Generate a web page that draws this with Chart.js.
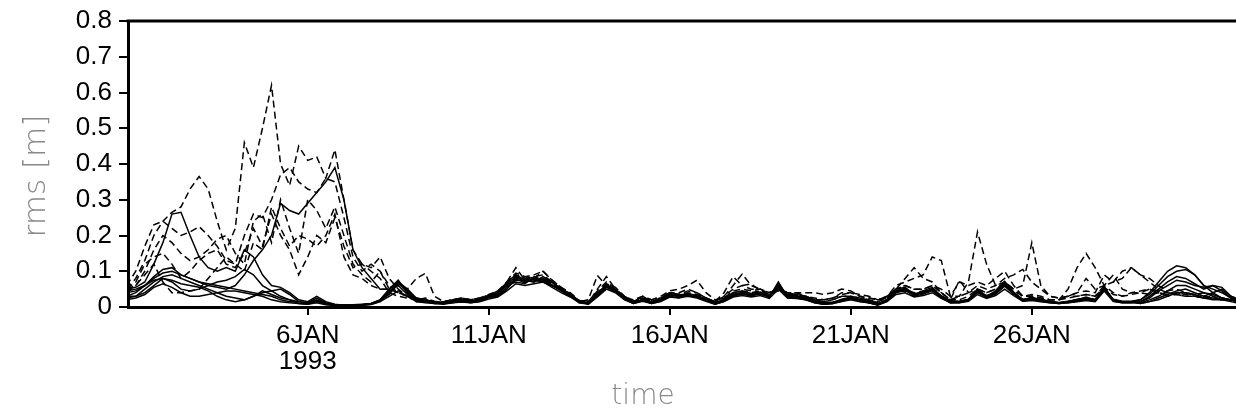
<!DOCTYPE html>
<html>
<head>
<meta charset="utf-8">
<script src="https://cdn.jsdelivr.net/npm/chart.js@4/dist/chart.umd.min.js"></script>
<style>
  html, body { margin: 0; padding: 0; background: #fff; }
  canvas { display: block; }
</style>
</head>
<body>
<canvas id="rmsChart" width="1236" height="412"></canvas>
<script>
// sampling every 6 hours, day 1 = 1 JAN 1993 00:00
const days = Array.from({ length: 125 }, (_, i) => 1 + i / 4);
const tickDays = [6, 11, 16, 21, 26];
const tickLabels = [['6JAN', '1993'], '11JAN', '16JAN', '21JAN', '26JAN'];

// solid members
const s0 = [
  0.045, 0.05, 0.06, 0.08, 0.095, 0.1, 0.09, 0.08, 0.07, 0.06, 0.055, 0.05, 0.06, 0.09, 0.13, 0.16,
  0.2, 0.29, 0.27, 0.26, 0.29, 0.32, 0.35, 0.39, 0.3, 0.16, 0.11, 0.08, 0.05, 0.05, 0.07, 0.04,
  0.02, 0.015, 0.012, 0.012, 0.015, 0.018, 0.016, 0.02, 0.03, 0.034, 0.062, 0.078, 0.068, 0.078, 0.078, 0.062,
  0.046, 0.034, 0.015, 0.01, 0.036, 0.058, 0.044, 0.024, 0.012, 0.02, 0.012, 0.02, 0.034, 0.03, 0.036, 0.03,
  0.02, 0.01, 0.02, 0.034, 0.038, 0.034, 0.04, 0.03, 0.06, 0.03, 0.03, 0.025, 0.015, 0.01, 0.012, 0.02,
  0.025, 0.02, 0.015, 0.008, 0.02, 0.045, 0.05, 0.035, 0.04, 0.05, 0.03, 0.015, 0.015, 0.02, 0.045, 0.03,
  0.04, 0.065, 0.04, 0.02, 0.025, 0.02, 0.015, 0.012, 0.015, 0.02, 0.025, 0.02, 0.055, 0.02, 0.015, 0.015,
  0.01, 0.015, 0.02, 0.03, 0.04, 0.04, 0.035, 0.025, 0.02, 0.02, 0.015, 0.01, 0.01
];
const s1 = [
  0.05, 0.055, 0.07, 0.12, 0.18, 0.26, 0.265, 0.2, 0.14, 0.11, 0.10, 0.11, 0.10, 0.16, 0.14, 0.09,
  0.06, 0.055, 0.04, 0.02, 0.015, 0.03, 0.015, 0.008, 0.005, 0.005, 0.006, 0.008, 0.015, 0.04, 0.07, 0.05,
  0.025, 0.02, 0.01, 0.012, 0.014, 0.02, 0.015, 0.022, 0.03, 0.038, 0.065, 0.085, 0.07, 0.08, 0.075, 0.06,
  0.045, 0.03, 0.014, 0.01, 0.038, 0.062, 0.045, 0.022, 0.01, 0.022, 0.012, 0.022, 0.038, 0.028, 0.038, 0.032,
  0.018, 0.01, 0.022, 0.04, 0.045, 0.038, 0.042, 0.028, 0.068, 0.03, 0.032, 0.022, 0.012, 0.008, 0.012, 0.022,
  0.028, 0.018, 0.012, 0.006, 0.022, 0.05, 0.055, 0.035, 0.045, 0.055, 0.03, 0.012, 0.015, 0.022, 0.05, 0.03,
  0.045, 0.072, 0.042, 0.02, 0.028, 0.02, 0.014, 0.01, 0.015, 0.022, 0.025, 0.018, 0.056, 0.02, 0.015, 0.015,
  0.02, 0.04, 0.07, 0.1, 0.115, 0.11, 0.09, 0.06, 0.05, 0.04, 0.025, 0.02, 0.015
];
const s2 = [
  0.03, 0.03, 0.04, 0.06, 0.08, 0.07, 0.05, 0.045, 0.05, 0.06, 0.07, 0.075, 0.085, 0.105, 0.09, 0.06,
  0.045, 0.05, 0.035, 0.015, 0.012, 0.025, 0.012, 0.006, 0.005, 0.004, 0.006, 0.01, 0.02, 0.05, 0.075, 0.04,
  0.02, 0.018, 0.014, 0.01, 0.016, 0.016, 0.018, 0.018, 0.028, 0.032, 0.055, 0.075, 0.075, 0.07, 0.085, 0.07,
  0.05, 0.038, 0.016, 0.012, 0.032, 0.058, 0.05, 0.028, 0.014, 0.018, 0.014, 0.018, 0.032, 0.032, 0.032, 0.028,
  0.022, 0.012, 0.018, 0.032, 0.038, 0.032, 0.038, 0.032, 0.055, 0.028, 0.028, 0.028, 0.018, 0.012, 0.014, 0.018,
  0.022, 0.022, 0.018, 0.01, 0.018, 0.042, 0.045, 0.038, 0.038, 0.048, 0.032, 0.018, 0.015, 0.02, 0.042, 0.032,
  0.038, 0.06, 0.038, 0.022, 0.022, 0.022, 0.016, 0.012, 0.014, 0.018, 0.022, 0.022, 0.05, 0.022, 0.016, 0.016,
  0.02, 0.035, 0.06, 0.085, 0.1, 0.105, 0.09, 0.06, 0.04, 0.025, 0.02, 0.015, 0.015
];
const s3 = [
  0.04, 0.045, 0.06, 0.085, 0.105, 0.11, 0.09, 0.08, 0.07, 0.065, 0.06, 0.055, 0.05, 0.045, 0.04, 0.035,
  0.03, 0.02, 0.015, 0.015, 0.01, 0.02, 0.01, 0.006, 0.005, 0.006, 0.008, 0.01, 0.02, 0.045, 0.06, 0.035,
  0.02, 0.02, 0.012, 0.014, 0.014, 0.02, 0.016, 0.02, 0.032, 0.04, 0.06, 0.07, 0.065, 0.085, 0.07, 0.06,
  0.052, 0.032, 0.016, 0.008, 0.03, 0.055, 0.042, 0.025, 0.012, 0.02, 0.01, 0.02, 0.036, 0.035, 0.03, 0.03,
  0.02, 0.01, 0.02, 0.032, 0.042, 0.036, 0.035, 0.03, 0.062, 0.032, 0.03, 0.025, 0.016, 0.01, 0.01, 0.02,
  0.025, 0.02, 0.016, 0.008, 0.02, 0.045, 0.05, 0.032, 0.042, 0.05, 0.028, 0.015, 0.016, 0.02, 0.045, 0.028,
  0.04, 0.066, 0.04, 0.018, 0.025, 0.018, 0.015, 0.012, 0.016, 0.02, 0.028, 0.02, 0.052, 0.018, 0.014, 0.014,
  0.015, 0.03, 0.05, 0.07, 0.085, 0.08, 0.065, 0.05, 0.06, 0.055, 0.03, 0.02, 0.015
];
const s4 = [
  0.025, 0.03, 0.05, 0.07, 0.085, 0.09, 0.08, 0.07, 0.06, 0.05, 0.04, 0.03, 0.025, 0.02, 0.03, 0.04,
  0.045, 0.03, 0.02, 0.01, 0.008, 0.015, 0.008, 0.005, 0.004, 0.004, 0.005, 0.008, 0.018, 0.035, 0.065, 0.045,
  0.015, 0.015, 0.01, 0.01, 0.012, 0.016, 0.012, 0.016, 0.026, 0.03, 0.05, 0.08, 0.08, 0.075, 0.07, 0.06,
  0.048, 0.035, 0.012, 0.01, 0.036, 0.06, 0.048, 0.022, 0.01, 0.018, 0.01, 0.016, 0.03, 0.026, 0.036, 0.03,
  0.018, 0.008, 0.016, 0.03, 0.036, 0.03, 0.04, 0.026, 0.07, 0.026, 0.026, 0.02, 0.014, 0.008, 0.01, 0.016,
  0.022, 0.016, 0.012, 0.006, 0.016, 0.04, 0.048, 0.03, 0.036, 0.045, 0.026, 0.012, 0.012, 0.018, 0.04, 0.026,
  0.036, 0.058, 0.036, 0.016, 0.02, 0.016, 0.012, 0.01, 0.012, 0.016, 0.02, 0.016, 0.05, 0.016, 0.012, 0.012,
  0.015, 0.025, 0.045, 0.06, 0.075, 0.07, 0.06, 0.055, 0.06, 0.045, 0.025, 0.015, 0.01
];
const s5 = [
  0.02, 0.025, 0.035, 0.055, 0.065, 0.055, 0.04, 0.03, 0.03, 0.035, 0.04, 0.045, 0.045, 0.04, 0.035, 0.03,
  0.02, 0.015, 0.012, 0.01, 0.008, 0.012, 0.006, 0.004, 0.004, 0.004, 0.005, 0.007, 0.015, 0.03, 0.045, 0.03,
  0.015, 0.012, 0.01, 0.008, 0.012, 0.014, 0.012, 0.015, 0.022, 0.028, 0.045, 0.065, 0.06, 0.065, 0.07, 0.055,
  0.04, 0.028, 0.012, 0.008, 0.028, 0.05, 0.04, 0.02, 0.01, 0.016, 0.01, 0.015, 0.028, 0.025, 0.03, 0.025,
  0.016, 0.008, 0.015, 0.028, 0.032, 0.028, 0.032, 0.024, 0.05, 0.025, 0.024, 0.02, 0.012, 0.008, 0.01, 0.015,
  0.02, 0.015, 0.012, 0.006, 0.015, 0.035, 0.04, 0.028, 0.032, 0.04, 0.024, 0.012, 0.012, 0.016, 0.035, 0.024,
  0.032, 0.05, 0.032, 0.016, 0.018, 0.015, 0.012, 0.01, 0.012, 0.015, 0.018, 0.015, 0.045, 0.016, 0.012, 0.012,
  0.012, 0.02, 0.03, 0.045, 0.06, 0.06, 0.05, 0.04, 0.035, 0.025, 0.02, 0.012, 0.01
];
const s6 = [
  0.03, 0.04, 0.06, 0.075, 0.08, 0.075, 0.065, 0.06, 0.055, 0.045, 0.03, 0.02, 0.015, 0.02, 0.03, 0.045,
  0.035, 0.025, 0.02, 0.015, 0.01, 0.018, 0.01, 0.005, 0.005, 0.005, 0.006, 0.009, 0.018, 0.04, 0.07, 0.05,
  0.022, 0.016, 0.012, 0.012, 0.016, 0.018, 0.014, 0.018, 0.03, 0.036, 0.07, 0.09, 0.075, 0.07, 0.08, 0.068,
  0.05, 0.036, 0.014, 0.01, 0.034, 0.064, 0.046, 0.026, 0.012, 0.02, 0.014, 0.02, 0.036, 0.03, 0.034, 0.03,
  0.02, 0.012, 0.02, 0.036, 0.04, 0.034, 0.036, 0.03, 0.058, 0.03, 0.03, 0.024, 0.016, 0.01, 0.012, 0.02,
  0.024, 0.018, 0.014, 0.008, 0.02, 0.044, 0.052, 0.036, 0.04, 0.05, 0.03, 0.014, 0.016, 0.02, 0.048, 0.03,
  0.042, 0.064, 0.04, 0.02, 0.024, 0.02, 0.014, 0.012, 0.015, 0.02, 0.024, 0.02, 0.054, 0.02, 0.014, 0.014,
  0.01, 0.015, 0.025, 0.035, 0.045, 0.05, 0.04, 0.03, 0.04, 0.05, 0.03, 0.02, 0.015
];

// dashed members
const d1 = [
  0.05, 0.08, 0.13, 0.2, 0.24, 0.265, 0.28, 0.33, 0.365, 0.33, 0.24, 0.16, 0.22, 0.46, 0.39, 0.5,
  0.62, 0.4, 0.34, 0.45, 0.41, 0.42, 0.36, 0.44, 0.3, 0.16, 0.12, 0.11, 0.14, 0.08, 0.05, 0.03,
  0.025, 0.02, 0.014, 0.012, 0.018, 0.022, 0.016, 0.022, 0.035, 0.04, 0.07, 0.11, 0.075, 0.085, 0.09, 0.07,
  0.05, 0.035, 0.015, 0.012, 0.05, 0.085, 0.05, 0.025, 0.015, 0.03, 0.015, 0.025, 0.04, 0.035, 0.045, 0.04,
  0.025, 0.015, 0.03, 0.06, 0.092, 0.06, 0.05, 0.035, 0.06, 0.035, 0.035, 0.03, 0.02, 0.015, 0.02, 0.03,
  0.03, 0.025, 0.02, 0.012, 0.03, 0.06, 0.07, 0.08, 0.09, 0.14, 0.13, 0.03, 0.07, 0.06, 0.07, 0.06,
  0.08, 0.1, 0.06, 0.03, 0.035, 0.03, 0.02, 0.02, 0.05, 0.11, 0.15, 0.11, 0.06, 0.09, 0.05, 0.04,
  0.04, 0.035, 0.04, 0.03, 0.035, 0.04, 0.03, 0.03, 0.025, 0.02, 0.02, 0.015, 0.012
];
const d2 = [
  0.06, 0.1, 0.17, 0.23, 0.24, 0.22, 0.2, 0.21, 0.225, 0.2, 0.17, 0.13, 0.12, 0.2, 0.26, 0.25,
  0.3, 0.37, 0.39, 0.35, 0.33, 0.32, 0.36, 0.35, 0.25, 0.14, 0.1, 0.12, 0.1, 0.06, 0.04, 0.03,
  0.02, 0.025, 0.016, 0.014, 0.02, 0.025, 0.02, 0.025, 0.032, 0.045, 0.065, 0.08, 0.085, 0.09, 0.1, 0.075,
  0.055, 0.04, 0.018, 0.012, 0.04, 0.065, 0.055, 0.03, 0.015, 0.025, 0.02, 0.03, 0.045, 0.05, 0.06, 0.075,
  0.04, 0.02, 0.025, 0.045, 0.05, 0.045, 0.05, 0.04, 0.055, 0.04, 0.04, 0.03, 0.02, 0.02, 0.025, 0.04,
  0.04, 0.03, 0.025, 0.02, 0.025, 0.05, 0.08, 0.11, 0.08, 0.07, 0.04, 0.02, 0.03, 0.04, 0.06, 0.05,
  0.06, 0.08, 0.09, 0.105, 0.07, 0.05, 0.03, 0.025, 0.03, 0.04, 0.045, 0.04, 0.09, 0.07, 0.1, 0.11,
  0.09, 0.08, 0.06, 0.045, 0.05, 0.04, 0.035, 0.04, 0.03, 0.025, 0.02, 0.02, 0.015
];
const d3 = [
  0.04, 0.06, 0.1, 0.16, 0.2, 0.18, 0.15, 0.13, 0.14, 0.16, 0.19, 0.2, 0.15, 0.12, 0.24, 0.26,
  0.18, 0.3, 0.22, 0.15, 0.3, 0.27, 0.22, 0.28, 0.2, 0.12, 0.09, 0.07, 0.1, 0.05, 0.04, 0.03,
  0.02, 0.018, 0.012, 0.014, 0.02, 0.02, 0.018, 0.02, 0.03, 0.04, 0.07, 0.09, 0.08, 0.075, 0.08, 0.07,
  0.05, 0.035, 0.015, 0.02, 0.088, 0.06, 0.045, 0.03, 0.015, 0.025, 0.015, 0.025, 0.04, 0.035, 0.04, 0.035,
  0.025, 0.015, 0.04, 0.085, 0.06, 0.065, 0.045, 0.035, 0.05, 0.035, 0.035, 0.03, 0.02, 0.015, 0.02, 0.03,
  0.03, 0.025, 0.02, 0.015, 0.025, 0.05, 0.06, 0.05, 0.05, 0.06, 0.05, 0.03, 0.03, 0.07, 0.21, 0.12,
  0.06, 0.07, 0.05, 0.03, 0.03, 0.025, 0.02, 0.02, 0.025, 0.03, 0.035, 0.03, 0.06, 0.07, 0.08, 0.11,
  0.09, 0.07, 0.05, 0.04, 0.035, 0.03, 0.03, 0.025, 0.03, 0.02, 0.018, 0.015, 0.012
];
const d4 = [
  0.05, 0.07, 0.12, 0.14, 0.15, 0.12, 0.08, 0.1, 0.13, 0.15, 0.16, 0.12, 0.11, 0.15, 0.22, 0.17,
  0.26, 0.2, 0.16, 0.09, 0.14, 0.2, 0.18, 0.25, 0.17, 0.11, 0.12, 0.1, 0.08, 0.04, 0.03, 0.025,
  0.02, 0.02, 0.015, 0.015, 0.02, 0.025, 0.02, 0.022, 0.03, 0.04, 0.065, 0.085, 0.08, 0.085, 0.075, 0.065,
  0.05, 0.035, 0.015, 0.012, 0.04, 0.06, 0.045, 0.025, 0.02, 0.03, 0.02, 0.02, 0.035, 0.035, 0.035, 0.03,
  0.025, 0.015, 0.025, 0.04, 0.045, 0.04, 0.045, 0.035, 0.045, 0.04, 0.04, 0.04, 0.04, 0.035, 0.04, 0.05,
  0.045, 0.03, 0.025, 0.02, 0.03, 0.05, 0.05, 0.04, 0.045, 0.05, 0.04, 0.02, 0.02, 0.03, 0.05, 0.04,
  0.05, 0.07, 0.05, 0.06, 0.18, 0.06, 0.03, 0.025, 0.03, 0.03, 0.035, 0.03, 0.055, 0.035, 0.03, 0.035,
  0.04, 0.05, 0.045, 0.04, 0.035, 0.03, 0.03, 0.025, 0.025, 0.02, 0.02, 0.015, 0.012
];
const d5 = [
  0.05, 0.06, 0.09, 0.12, 0.07, 0.04, 0.04, 0.045, 0.05, 0.08, 0.11, 0.14, 0.12, 0.1, 0.18, 0.16,
  0.28, 0.22, 0.17, 0.2, 0.19, 0.17, 0.2, 0.26, 0.14, 0.09, 0.08, 0.06, 0.05, 0.05, 0.06, 0.05,
  0.08, 0.094, 0.03, 0.015, 0.02, 0.025, 0.02, 0.025, 0.035, 0.045, 0.07, 0.095, 0.085, 0.08, 0.1, 0.075,
  0.055, 0.035, 0.018, 0.015, 0.045, 0.07, 0.05, 0.03, 0.018, 0.03, 0.02, 0.025, 0.04, 0.04, 0.05, 0.04,
  0.025, 0.015, 0.03, 0.05, 0.06, 0.05, 0.05, 0.04, 0.05, 0.04, 0.035, 0.03, 0.025, 0.02, 0.025, 0.035,
  0.04, 0.035, 0.03, 0.02, 0.03, 0.05, 0.06, 0.05, 0.05, 0.06, 0.04, 0.02, 0.075, 0.04, 0.05, 0.04,
  0.05, 0.06, 0.045, 0.03, 0.03, 0.025, 0.02, 0.02, 0.03, 0.04, 0.08, 0.05, 0.06, 0.04, 0.03, 0.04,
  0.045, 0.05, 0.04, 0.035, 0.04, 0.035, 0.03, 0.03, 0.025, 0.02, 0.018, 0.015, 0.012
];

const solidSeries = [s0, s1, s2, s3, s4, s5, s6];
const dashedSeries = [d1, d2, d3, d4, d5];

function toPoints(vals) {
  return vals.map((v, i) => ({ x: days[i], y: v }));
}

const datasets = [];
solidSeries.forEach(function(s) {
  datasets.push({ data: toPoints(s), borderColor: '#000', borderWidth: 1.5, pointRadius: 0, tension: 0 });
});
dashedSeries.forEach(function(s) {
  datasets.push({ data: toPoints(s), borderColor: '#000', borderWidth: 1.5, borderDash: [7, 4], pointRadius: 0, tension: 0 });
});

// frame top line and axis titles
const framePlugin = {
  id: 'frame',
  afterDraw(chart) {
    const ctx = chart.ctx, a = chart.chartArea;
    ctx.save();
    ctx.strokeStyle = '#000';
    ctx.lineWidth = 3;
    ctx.beginPath();
    ctx.moveTo(a.left - 1.5, a.top);
    ctx.lineTo(a.right, a.top);
    ctx.stroke();

    ctx.fillStyle = '#8a8a8a';
    ctx.textAlign = 'center';
    ctx.textBaseline = 'alphabetic';
    ctx.font = '200 28px "DejaVu Sans"';
    ctx.fillText('time', 643, 404);

    ctx.font = '200 31px "DejaVu Sans"';
    ctx.translate(45, 176);
    ctx.rotate(-Math.PI / 2);
    ctx.fillText('rms [m]', 0, 0);
    ctx.restore();
  }
};

const tickFont = { family: '"Liberation Sans", Arial, sans-serif', size: 26, lineHeight: 1.0 };

new Chart(document.getElementById('rmsChart').getContext('2d'), {
  type: 'line',
  data: { datasets: datasets },
  options: {
    responsive: false,
    animation: false,
    devicePixelRatio: 1,
    layout: { padding: { top: 21, right: 0, left: 0, bottom: 0 } },
    plugins: { legend: { display: false }, tooltip: { enabled: false } },
    scales: {
      x: {
        type: 'linear',
        min: 1.036,
        max: 31.64,
        afterFit(s) { s.height = 105; },
        afterBuildTicks(s) { s.ticks = tickDays.map(v => ({ value: v })); },
        border: { display: true, color: '#000', width: 3 },
        grid: { drawOnChartArea: false, drawTicks: true, tickLength: 8, color: '#000', lineWidth: 2 },
        ticks: {
          color: '#000',
          font: tickFont,
          padding: 8,
          maxRotation: 0,
          autoSkip: false,
          callback(v) {
            const k = tickDays.indexOf(v);
            return k >= 0 ? tickLabels[k] : '';
          }
        }
      },
      y: {
        min: 0,
        max: 0.8,
        afterFit(s) { s.width = 128; },
        border: { display: true, color: '#000', width: 3 },
        grid: { drawOnChartArea: false, drawTicks: true, tickLength: 9, color: '#000', lineWidth: 2 },
        ticks: {
          color: '#000',
          font: tickFont,
          padding: 7,
          stepSize: 0.1,
          callback(v) { return v === 0 ? '0' : v.toFixed(1); }
        }
      }
    }
  },
  plugins: [framePlugin]
});
</script>
</body>
</html>
